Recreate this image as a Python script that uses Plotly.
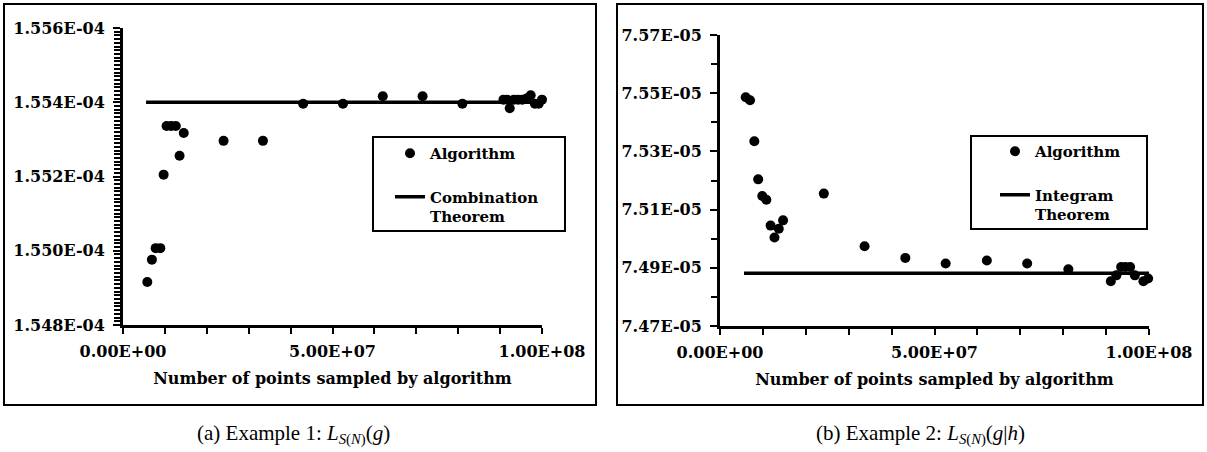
import plotly.graph_objects as go

W, H = 1207, 452

# ---------------- data ----------------
# Example 1
ex1_n = [5.8e6, 6.9e6, 7.8e6, 8.9e6, 9.7e6, 10.4e6, 11.5e6, 12.6e6, 13.5e6, 14.5e6,
         24.0e6, 33.4e6, 43.0e6, 52.5e6, 62.0e6, 71.5e6, 81.0e6,
         90.8e6, 91.7e6, 92.3e6, 93.3e6, 94.3e6, 95.3e6, 96.3e6, 97.3e6, 98.3e6, 99.2e6, 100.0e6]
ex1_L = [1.54916e-4, 1.54976e-4, 1.55007e-4, 1.55007e-4, 1.55205e-4, 1.55336e-4, 1.55336e-4,
         1.55336e-4, 1.55256e-4, 1.55317e-4, 1.55296e-4, 1.55296e-4, 1.55396e-4, 1.55396e-4,
         1.55416e-4, 1.55416e-4, 1.55396e-4, 1.55407e-4, 1.55407e-4, 1.55384e-4, 1.55407e-4,
         1.55407e-4, 1.55407e-4, 1.55410e-4, 1.55419e-4, 1.55396e-4, 1.55396e-4, 1.55407e-4]
ex1_theorem_n = [5.5e6, 1.0e8]
ex1_theorem_L = [1.554e-4, 1.554e-4]

# Example 2
ex2_n = [6.0e6, 7.0e6, 8.0e6, 8.9e6, 9.85e6, 10.8e6, 11.8e6, 12.7e6, 13.7e6, 14.7e6,
         24.2e6, 33.7e6, 43.2e6, 52.6e6, 62.2e6, 71.6e6, 81.2e6,
         91.1e6, 92.4e6, 93.5e6, 94.5e6, 95.6e6, 96.7e6, 98.7e6, 99.8e6]
ex2_L = [7.5486e-5, 7.5476e-5, 7.5335e-5, 7.5204e-5, 7.5147e-5, 7.5134e-5, 7.5045e-5,
         7.5004e-5, 7.5034e-5, 7.5063e-5, 7.5155e-5, 7.4974e-5, 7.4934e-5, 7.4915e-5,
         7.4925e-5, 7.4915e-5, 7.4895e-5, 7.4854e-5, 7.4874e-5, 7.4903e-5, 7.4903e-5,
         7.4903e-5, 7.4874e-5, 7.4854e-5, 7.4863e-5]
ex2_theorem_n = [5.6e6, 1.0e8]
ex2_theorem_L = [7.4881e-5, 7.4881e-5]

x_ticks = [0.0, 5.0e7, 1.0e8]
x_ticklabels = [f"{v:.2E}" for v in x_ticks]
y1_ticks = [1.548e-4, 1.550e-4, 1.552e-4, 1.554e-4, 1.556e-4]
y1_ticklabels = [f"{v:.3E}" for v in y1_ticks]
y2_ticks = [7.47e-5, 7.49e-5, 7.51e-5, 7.53e-5, 7.55e-5, 7.57e-5]
y2_ticklabels = [f"{v:.2E}" for v in y2_ticks]

x_title = "Number of points sampled by algorithm"
captions = ["(a) Example 1: <i>L</i><sub><i>S</i>(<i>N</i>)</sub>(<i>g</i>)",
            "(b) Example 2: <i>L</i><sub><i>S</i>(<i>N</i>)</sub>(<i>g</i>|<i>h</i>)"]

# ---------------- helpers ----------------
def px(x):
    return x / W

def py(y):
    return 1 - y / H

BOLD_FONT = "DejaVu Serif"
CAP_FONT = "Liberation Serif"
tickfont = dict(family=BOLD_FONT, size=16, color="black", weight="bold")

fig = go.Figure()

# Example 1 traces
fig.add_trace(go.Scatter(x=ex1_theorem_n, y=ex1_theorem_L, mode="lines",
                         line=dict(color="black", width=3.5),
                         name="Combination<br>Theorem", legend="legend", legendrank=2,
                         xaxis="x", yaxis="y", legendgroup="t1"))
fig.add_trace(go.Scatter(x=ex1_n, y=ex1_L, mode="markers",
                         marker=dict(color="black", size=10, symbol="circle"),
                         name="Algorithm", legend="legend", legendrank=1, cliponaxis=False,
                         xaxis="x", yaxis="y", legendgroup="a1"))
# Example 2 traces
fig.add_trace(go.Scatter(x=ex2_theorem_n, y=ex2_theorem_L, mode="lines",
                         line=dict(color="black", width=3.5),
                         name="Integram<br>Theorem", legend="legend2", legendrank=2,
                         xaxis="x2", yaxis="y2", legendgroup="t2"))
fig.add_trace(go.Scatter(x=ex2_n, y=ex2_L, mode="markers",
                         marker=dict(color="black", size=10, symbol="circle"),
                         name="Algorithm", legend="legend2", legendrank=1, cliponaxis=False,
                         xaxis="x2", yaxis="y2", legendgroup="a2"))

def xaxis_cfg(d0, d1, anchor):
    return dict(domain=[px(d0), px(d1)], anchor=anchor, range=[0, 1.0e8],
                tickvals=x_ticks, ticktext=x_ticklabels, tickfont=tickfont,
                ticklabelstandoff=4,
                showgrid=False, zeroline=False, showline=True, linecolor="black",
                linewidth=2.5, ticks="outside", ticklen=6, tickwidth=2, tickcolor="black",
                minor=dict(dtick=1.0e7, tick0=0, ticks="outside", ticklen=6,
                           tickwidth=2, tickcolor="black", showgrid=False),
                title=dict(text=x_title, font=dict(family=BOLD_FONT, size=16, color="black",
                                                   weight="bold"), standoff=13),
                automargin=False, fixedrange=True)

def yaxis_cfg(d0, d1, anchor, rng, tv, tt, minor_dt):
    return dict(domain=[py(d1), py(d0)], anchor=anchor, range=rng,
                tickvals=tv, ticktext=tt, tickfont=tickfont,
                ticklabelstandoff=5,
                showgrid=False, zeroline=False, showline=True, linecolor="black",
                linewidth=3, ticks="outside", ticklen=7, tickwidth=2, tickcolor="black",
                minor=dict(dtick=minor_dt, tick0=rng[0], ticks="outside", ticklen=6,
                           tickwidth=2, tickcolor="black", showgrid=False),
                automargin=False, fixedrange=True)

legend_common = dict(xanchor="left", yanchor="top", bgcolor="rgba(0,0,0,0)",
                     borderwidth=0, font=dict(family=BOLD_FONT, size=15, color="black",
                                              weight="bold"),
                     tracegroupgap=21, valign="top", traceorder="grouped", itemwidth=30)

fig.update_layout(
    width=W, height=H, autosize=False,
    margin=dict(l=0, r=0, t=0, b=0, autoexpand=False),
    paper_bgcolor="white", plot_bgcolor="white",
    showlegend=True,
    xaxis=xaxis_cfg(123, 542, "y"),
    yaxis=yaxis_cfg(28, 325, "x", [1.548e-4, 1.556e-4], y1_ticks, y1_ticklabels, 1.0e-8),
    xaxis2=xaxis_cfg(720, 1149, "y2"),
    yaxis2=yaxis_cfg(35, 326, "x2", [7.47e-5, 7.57e-5], y2_ticks, y2_ticklabels, 1.0e-7),
    legend=dict(x=px(390), y=py(137), **legend_common),
    legend2=dict(x=px(995), y=py(135), **legend_common),
)

# frames around each panel and legend boxes
shapes = [
    dict(type="rect", xref="paper", yref="paper", x0=px(4), x1=px(596), y0=py(405), y1=py(4),
         line=dict(color="black", width=2)),
    dict(type="rect", xref="paper", yref="paper", x0=px(617), x1=px(1203), y0=py(405), y1=py(4),
         line=dict(color="black", width=2)),
    dict(type="rect", xref="paper", yref="paper", x0=px(373), x1=px(565), y0=py(231), y1=py(137),
         line=dict(color="black", width=2)),
    dict(type="rect", xref="paper", yref="paper", x0=px(971), x1=px(1147), y0=py(229), y1=py(136),
         line=dict(color="black", width=2)),
]
fig.update_layout(shapes=shapes)

for cx, text in zip([293, 920], captions):
    fig.add_annotation(x=px(cx), y=py(434), xref="paper", yref="paper", text=text,
                       showarrow=False, xanchor="center", yanchor="middle",
                       font=dict(family=CAP_FONT, size=21, color="black"))

fig.write_html("out.html", config={"displayModeBar": False},
               post_script="document.body.style.margin='0';document.body.style.padding='0';"
                           "document.documentElement.style.overflow='hidden';")
